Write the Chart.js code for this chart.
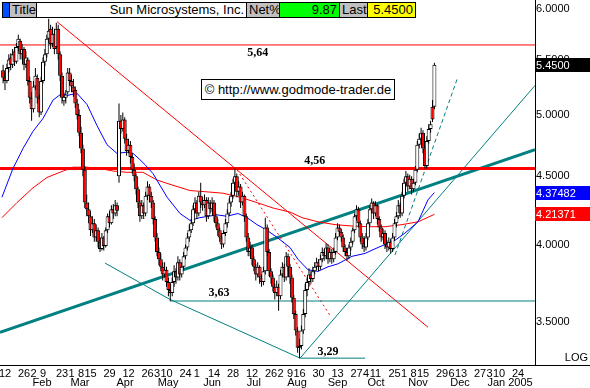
<!DOCTYPE html>
<html><head><meta charset="utf-8">
<script src="https://cdn.jsdelivr.net/npm/chart.js@4/dist/chart.umd.min.js"></script>
<style>
html,body{margin:0;padding:0;background:#fff;}
#wrap{position:relative;width:590px;height:388px;overflow:hidden;background:#fff;}
#c{position:absolute;left:0;top:0;}
#hdr{position:absolute;left:2px;top:2px;height:14px;border:1px solid #000;display:flex;font:13px "Liberation Sans",Arial,sans-serif;line-height:14px;color:#000;background:#fff;}
#hdr div{box-sizing:border-box;height:14px;padding:0 2px;white-space:nowrap;overflow:hidden;border-right:1px solid #000;}
#hdr div:last-child{border-right:none;}
#copy{position:absolute;left:201px;top:79px;width:192px;height:19px;border:1px solid #000;background:#fff;font:13px "Liberation Sans",Arial,sans-serif;line-height:19px;text-align:center;color:#000;}
</style></head>
<body>
<div id="wrap">
<canvas id="c" width="590" height="388"></canvas>
<div id="hdr">
 <div style="width:7px;background:#0050ff;padding:0"></div>
 <div style="width:27px;background:#c0c0c0">Title</div>
 <div style="width:210px;text-align:right">Sun Microsystems, Inc.</div>
 <div style="width:33px;background:#c0c0c0">Net%</div>
 <div style="width:60px;background:#00ff00;text-align:right">9.87</div>
 <div style="width:28px;background:#c0c0c0">Last</div>
 <div style="width:47px;background:#ffff00;text-align:right">5.4500</div>
</div>
<div id="copy">© http://www.godmode-trader.de</div>
</div>
<script>
// ---- data (trading-day index, 0 = 12 Jan 2004) ----
const firstDay = -1;
const opens = [
5.40,5.33,5.30,5.42,5.52,5.45,5.58,5.48,5.62,5.68,
5.55,5.60,5.45,5.50,5.30,5.15,5.05,5.25,5.33,5.15,
5.02,5.30,5.48,5.55,5.70,5.80,5.65,5.75,5.62,5.80,
5.55,5.35,5.12,5.15,5.20,5.38,5.30,5.25,5.22,5.10,
5.00,4.85,4.72,4.55,4.30,4.25,4.20,4.10,4.15,4.05,
4.10,4.02,3.97,4.05,3.99,4.10,4.20,4.15,4.25,4.22,
4.28,4.50,4.95,4.88,4.96,4.80,4.70,4.75,4.65,4.55,
4.50,4.40,4.30,4.20,4.28,4.22,4.35,4.42,4.35,4.30,
4.18,4.05,3.95,3.90,3.85,3.80,3.83,3.75,3.70,3.68,
3.75,3.82,3.78,3.88,3.80,3.85,3.92,3.98,4.05,4.10,
4.15,4.25,4.30,4.22,4.35,4.30,4.28,4.32,4.20,4.30,
4.25,4.30,4.20,4.15,4.10,4.05,4.00,4.08,4.15,4.22,
4.30,4.35,4.45,4.50,4.38,4.42,4.30,4.35,4.20,4.05,
3.95,3.98,3.90,3.85,3.80,3.85,3.78,3.75,3.82,4.12,
3.95,3.82,3.78,3.72,3.68,3.72,3.66,3.80,3.85,3.78,
3.92,3.85,3.78,3.65,3.55,3.45,3.35,3.36,3.45,3.55,
3.70,3.75,3.80,3.77,3.82,3.85,3.88,3.85,3.90,3.95,
3.92,3.98,3.90,3.95,3.90,3.95,4.05,4.12,4.09,4.05,
3.98,3.95,3.92,3.98,4.02,4.10,4.20,4.25,4.15,4.05,
4.00,3.98,4.05,4.15,4.25,4.30,4.22,4.28,4.18,4.12,
4.05,4.08,4.00,3.98,4.02,3.97,4.05,4.15,4.20,4.28,
4.22,4.35,4.45,4.50,4.42,4.48,4.40,4.45,4.55,4.75,
4.80,4.85,4.72,4.58,4.78,4.88,5.07,5.07];
const highs = [
5.45,5.38,5.46,5.55,5.56,5.60,5.62,5.66,5.74,5.70,
5.65,5.62,5.58,5.52,5.34,5.20,5.30,5.42,5.36,5.18,
5.34,5.52,5.60,5.74,5.90,5.84,5.82,5.80,5.86,5.84,
5.58,5.38,5.20,5.22,5.42,5.42,5.36,5.32,5.25,5.14,
5.05,4.90,4.75,4.58,4.36,4.30,4.24,4.20,4.18,4.14,
4.12,4.05,4.08,4.06,4.12,4.22,4.24,4.28,4.29,4.32,
4.30,5.10,5.00,5.02,4.98,4.84,4.80,4.78,4.68,4.60,
4.52,4.42,4.32,4.32,4.30,4.38,4.46,4.44,4.38,4.32,
4.20,4.08,3.98,3.94,3.88,3.88,3.85,3.78,3.74,3.78,
3.86,3.84,3.92,3.90,3.88,3.95,4.00,4.08,4.14,4.18,
4.28,4.34,4.32,4.38,4.45,4.34,4.36,4.34,4.34,4.32,
4.34,4.32,4.22,4.18,4.12,4.08,4.10,4.18,4.25,4.33,
4.38,4.48,4.56,4.52,4.46,4.44,4.38,4.36,4.22,4.08,
4.02,4.00,3.92,3.87,3.88,3.86,3.80,3.85,4.19,4.14,
3.97,3.84,3.80,3.74,3.76,3.74,3.83,3.88,3.87,3.95,
3.94,3.87,3.80,3.67,3.57,3.47,3.40,3.48,3.58,3.74,
3.78,3.84,3.82,3.85,3.88,3.91,3.90,3.93,3.98,3.97,
4.01,4.00,3.98,3.97,3.98,4.08,4.15,4.14,4.11,4.07,
4.00,3.97,4.00,4.05,4.12,4.22,4.28,4.27,4.17,4.08,
4.06,4.08,4.18,4.28,4.33,4.31,4.31,4.29,4.20,4.14,
4.11,4.10,4.03,4.05,4.04,4.08,4.18,4.23,4.32,4.30,
4.38,4.48,4.54,4.52,4.51,4.50,4.48,4.58,4.78,4.84,
4.89,4.87,4.74,4.82,4.92,4.95,5.13,5.47];
const lows = [
5.28,5.22,5.28,5.38,5.40,5.42,5.44,5.46,5.58,5.50,
5.50,5.40,5.42,5.26,5.10,4.95,5.02,5.22,5.10,4.98,
5.00,5.28,5.44,5.52,5.66,5.60,5.62,5.55,5.60,5.50,
5.30,5.10,5.08,5.10,5.18,5.26,5.20,5.16,5.06,4.96,
4.82,4.68,4.50,4.26,4.20,4.15,4.06,4.08,4.02,4.02,
3.98,3.95,3.96,3.96,3.98,4.08,4.12,4.14,4.18,4.20,
4.20,4.45,4.84,4.86,4.76,4.66,4.68,4.60,4.52,4.46,
4.36,4.26,4.16,4.18,4.18,4.20,4.32,4.30,4.26,4.14,
4.02,3.92,3.86,3.82,3.76,3.78,3.72,3.66,3.63,3.66,
3.72,3.74,3.76,3.76,3.78,3.83,3.90,3.96,4.02,4.08,
4.13,4.22,4.18,4.20,4.26,4.24,4.26,4.16,4.18,4.22,
4.23,4.16,4.12,4.06,4.02,3.97,3.98,4.06,4.12,4.20,
4.27,4.33,4.42,4.34,4.35,4.26,4.28,4.16,4.02,3.92,
3.92,3.86,3.82,3.76,3.78,3.74,3.72,3.73,3.80,3.92,
3.79,3.74,3.69,3.64,3.66,3.57,3.64,3.78,3.75,3.76,
3.82,3.74,3.62,3.52,3.42,3.32,3.29,3.34,3.43,3.53,
3.66,3.72,3.74,3.75,3.80,3.83,3.82,3.83,3.88,3.89,
3.90,3.87,3.88,3.87,3.88,3.93,4.03,4.06,4.02,3.95,
3.92,3.89,3.90,3.96,4.00,4.08,4.17,4.12,4.02,3.97,
3.95,3.96,4.03,4.13,4.22,4.18,4.20,4.14,4.09,4.02,
4.03,3.97,3.95,3.96,3.94,3.95,4.03,4.12,4.18,4.19,
4.20,4.33,4.42,4.38,4.40,4.36,4.38,4.43,4.53,4.72,
4.77,4.68,4.56,4.56,4.76,4.85,4.94,5.05];
const closes = [
5.33,5.30,5.42,5.50,5.45,5.55,5.48,5.62,5.70,5.55,
5.60,5.45,5.52,5.30,5.15,5.05,5.25,5.35,5.15,5.02,
5.30,5.48,5.55,5.70,5.78,5.65,5.75,5.60,5.80,5.55,
5.35,5.15,5.16,5.18,5.38,5.30,5.25,5.20,5.10,5.00,
4.85,4.72,4.55,4.30,4.25,4.20,4.10,4.15,4.05,4.10,
4.02,3.97,4.05,3.99,4.10,4.20,4.15,4.25,4.22,4.28,
4.24,4.95,4.88,4.96,4.80,4.70,4.75,4.65,4.55,4.50,
4.40,4.30,4.20,4.28,4.22,4.35,4.42,4.35,4.30,4.18,
4.05,3.95,3.90,3.85,3.80,3.83,3.75,3.70,3.68,3.75,
3.82,3.78,3.88,3.80,3.85,3.92,3.98,4.05,4.10,4.15,
4.25,4.30,4.22,4.35,4.30,4.28,4.32,4.20,4.30,4.25,
4.30,4.20,4.15,4.10,4.05,4.00,4.08,4.15,4.22,4.30,
4.35,4.45,4.50,4.38,4.42,4.30,4.35,4.20,4.05,3.95,
3.98,3.90,3.85,3.80,3.85,3.78,3.75,3.82,4.12,3.95,
3.82,3.78,3.72,3.68,3.72,3.66,3.80,3.85,3.78,3.92,
3.85,3.78,3.65,3.55,3.45,3.35,3.36,3.45,3.55,3.70,
3.75,3.80,3.77,3.82,3.85,3.88,3.85,3.90,3.95,3.92,
3.98,3.90,3.95,3.90,3.95,4.05,4.12,4.09,4.05,3.98,
3.95,3.92,3.98,4.02,4.10,4.20,4.25,4.15,4.05,4.00,
3.98,4.05,4.15,4.25,4.30,4.22,4.28,4.18,4.12,4.05,
4.08,4.00,3.98,4.02,3.97,4.05,4.15,4.20,4.28,4.22,
4.35,4.45,4.50,4.42,4.48,4.40,4.45,4.55,4.75,4.80,
4.85,4.72,4.58,4.78,4.88,4.92,4.96,5.45];

// moving averages (read at sample points)
const blueMAx = [-1.6,4.2,9.5,14.7,20,25.3,30,32.6,37.9,43.2,48.4,53.7,58.9,64.2,67.4,71,73.7,77.9,85.3,92.1,97.4,102.6,111.6,116.8,122.6,127.4,132.6,137.9,143.2,150,154.2,159.5,164.7,170,175.3,182.6,189.5,196.3,200,205.3,210.5,217.4,222.6,226];
const blueMAy = [4.34,4.56,4.72,4.86,4.97,5.13,5.19,5.17,5.19,5.09,4.91,4.75,4.68,4.69,4.68,4.63,4.59,4.52,4.34,4.22,4.17,4.19,4.21,4.20,4.22,4.19,4.14,4.10,4.05,3.98,3.90,3.83,3.82,3.85,3.87,3.92,3.94,3.98,4.00,4.03,4.08,4.16,4.32,4.37482];
const redMAx = [-1.6,6.3,14.7,22.1,28.9,35.8,43.2,50,56.8,64.2,72.6,80,88.4,97.4,106.3,114.7,123.7,132.6,141.1,150,156.3,164.7,173.7,182.6,191,200,209,217.4,226];
const redMAy = [4.19,4.30,4.41,4.49,4.53,4.57,4.57,4.56,4.54,4.53,4.53,4.47,4.43,4.39,4.38,4.37,4.34,4.30,4.26,4.23,4.19,4.16,4.14,4.13,4.125,4.125,4.14,4.16,4.21371];

// drawn lines (index, price)
const xMin = -2.6316, xMax = 278.947;
const yMin = 3.2514, yMax = 6.0937;
const resistance = [5.64, 4.56];
const support363X = [86.8, xMax], support329X = [155.3, 189.5];
const supportLevels = [3.63, 3.29];
const downTrendX = [27.4, 222.6], downTrendY = [5.87, 3.47];
const dottedX = [122.1, 171.1], dottedY = [4.55, 3.54];
const bigTrendX = [xMin, xMax], bigTrendY = [3.44, 4.71];
const lowTrendX = [52.6, 86.8, 155.3], lowTrendY = [3.875, 3.64, 3.29];
const upTrendX = [155.3, xMax], upTrendY = [3.29, 5.26];
const steepX = [205.3, 238.4], steepY = [3.93, 5.34];

// axis ticks
const priceTicks = [3.5, 4, 4.5, 5, 5.5, 6];
const dayTickPos = [0,10,15,20,30,35,40,45,55,65,75,80,85,95,101,110,120,130,140,145,150,155,165,175,185,190,195,205,210,215,220,230,235,240,250,255,260,270];
const dayTickLabels = ['12','26','2','9','23','1','8','15','29','12','26','3','10','24','1','14','28','12','26','2','9','16','30','13','27','4','11','25','1','8','15','29','6','13','27','3','10','24'];
const monthPos = [19.5,39.5,63.2,85.8,109,131,153.7,175,195.3,217.4,239.5,265.8];
const monthLabels = ['Feb','Mar','Apr','May','Jun','Jul','Aug','Sep','Oct','Nov','Dec','Jan 2005'];

// ---- build ----
const pts = (xs, ys) => xs.map((x, k) => ({x, y: ys[k]}));
const TEAL = '#008080', RED = '#ff0000', BLUE = '#0000ff';
function lineDs(data, color, width, dash, order) {
  return {type: 'line', data, borderColor: color, borderWidth: width, borderDash: dash || [],
    pointRadius: 0, fill: false, tension: 0, order: order, borderCapStyle: 'butt'};
}
const wickData = opens.map((o, k) => ({x: firstDay + k, y: [lows[k], highs[k]]}));
const bodyData = opens.map((o, k) => ({x: firstDay + k, y: [opens[k], closes[k]]}));

Chart.defaults.font.family = '"Liberation Sans", Arial, sans-serif';
Chart.defaults.font.size = 11;
Chart.defaults.color = '#000';

const levelLabels = [
  {text: '5,64', x: 133, value: 5.64, dy: 8},
  {text: '4,56', x: 163, value: 4.56, dy: -8},
  {text: '3,63', x: 112.6, value: 3.63, dy: -8},
  {text: '3,29', x: 170, value: 3.29, dy: -6}
];
const valueBoxes = [
  {value: closes[closes.length - 1], text: closes[closes.length - 1].toFixed(4), bg: '#000'},
  {value: blueMAy[blueMAy.length - 1], text: blueMAy[blueMAy.length - 1].toFixed(5), bg: BLUE},
  {value: redMAy[redMAy.length - 1], text: redMAy[redMAy.length - 1].toFixed(5), bg: RED}
];

const extras = {
  id: 'extras',
  beforeDraw(chart) {
    const c = chart.ctx; c.save(); c.fillStyle = '#fff'; c.fillRect(0, 0, chart.width, chart.height); c.restore();
  },
  afterDraw(chart) {
    const c = chart.ctx, xs = chart.scales.x, ys = chart.scales.y, a = chart.chartArea;
    c.save();
    c.font = 'bold 12px "Liberation Serif", "Times New Roman", serif';
    c.fillStyle = '#000'; c.textAlign = 'center'; c.textBaseline = 'middle';
    levelLabels.forEach(l => c.fillText(l.text, xs.getPixelForValue(l.x), ys.getPixelForValue(l.value) + l.dy));
    c.font = '11px "Liberation Sans", Arial, sans-serif';
    c.textAlign = 'left';
    valueBoxes.forEach(b => {
      const y = Math.round(ys.getPixelForValue(b.value));
      c.fillStyle = b.bg; c.fillRect(a.right, y - 7, chart.width - a.right, 14);
      c.fillStyle = '#fff'; c.fillText(b.text, a.right + 1, y + 0.5);
    });
    c.strokeStyle = '#000'; c.lineWidth = 1;
    c.beginPath(); c.moveTo(a.right, a.bottom + 0.5); c.lineTo(chart.width, a.bottom + 0.5); c.stroke();
    c.fillStyle = '#000'; c.textAlign = 'right'; c.textBaseline = 'middle';
    c.fillText('LOG', chart.width - 2, a.bottom - 7);
    c.restore();
  }
};

new Chart(document.getElementById('c'), {
  type: 'bar',
  data: {
    datasets: [
      {type: 'bar', data: bodyData, barThickness: 4, grouped: false, order: 0,
        backgroundColor: ctx => closes[ctx.dataIndex] >= opens[ctx.dataIndex] ? '#ffffff' : RED,
        borderColor: '#000', borderWidth: 1, borderSkipped: false, inflateAmount: 0},
      {type: 'bar', data: wickData, barThickness: 1, grouped: false, order: 1,
        backgroundColor: '#000', borderWidth: 0, inflateAmount: 0},
      lineDs(pts(blueMAx, blueMAy), BLUE, 1, null, 2),
      lineDs(pts(redMAx, redMAy), RED, 1, null, 2),
      lineDs(pts([xMin, xMax], [resistance[0], resistance[0]]), RED, 1, null, 3),
      lineDs(pts([xMin, xMax], [resistance[1], resistance[1]]), RED, 3, null, 3),
      lineDs(pts(support363X, [supportLevels[0], supportLevels[0]]), TEAL, 1, null, 3),
      lineDs(pts(support329X, [supportLevels[1], supportLevels[1]]), TEAL, 1, null, 3),
      lineDs(pts(downTrendX, downTrendY), RED, 1, null, 3),
      lineDs(pts(dottedX, dottedY), RED, 1, [2, 3], 3),
      lineDs(pts(bigTrendX, bigTrendY), TEAL, 3, null, 3),
      lineDs(pts(lowTrendX, lowTrendY), TEAL, 1, null, 3),
      lineDs(pts(upTrendX, upTrendY), TEAL, 1, null, 3),
      lineDs(pts(steepX, steepY), TEAL, 1, [4, 3], 3)
    ]
  },
  options: {
    responsive: false, animation: false, devicePixelRatio: 1,
    layout: {padding: 0, autoPadding: false},
    plugins: {legend: {display: false}, tooltip: {enabled: false}},
    scales: {
      x: {type: 'linear', position: 'bottom', min: xMin, max: xMax, offset: false, weight: 0,
        grid: {display: false, drawTicks: false}, border: {display: true, color: '#000', width: 1},
        ticks: {autoSkip: false, maxRotation: 0, minRotation: 0, padding: 2, color: '#000',
          callback: (v) => { const k = dayTickPos.indexOf(v); return k >= 0 ? dayTickLabels[k] : ''; }},
        afterBuildTicks: s => { s.ticks = dayTickPos.map(v => ({value: v})); },
        afterFit: s => { s.height = 12; s.paddingLeft = 0; s.paddingRight = 0; }},
      xm: {type: 'linear', position: 'bottom', min: xMin, max: xMax, offset: false, weight: 1,
        grid: {display: false, drawTicks: false}, border: {display: false},
        ticks: {autoSkip: false, maxRotation: 0, minRotation: 0, padding: -1, color: '#000',
          callback: (v) => { const k = monthPos.indexOf(v); return k >= 0 ? monthLabels[k] : ''; }},
        afterBuildTicks: s => { s.ticks = monthPos.map(v => ({value: v})); },
        afterFit: s => { s.height = 11; s.paddingLeft = 0; s.paddingRight = 0; }},
      y: {type: 'logarithmic', position: 'right', min: yMin, max: yMax,
        grid: {display: false, drawTicks: false}, border: {display: true, color: '#000', width: 1},
        ticks: {autoSkip: false, padding: 1, color: '#000', callback: v => Number(v).toFixed(4)},
        afterBuildTicks: s => { s.ticks = priceTicks.map(v => ({value: v})); },
        afterFit: s => { s.width = 55; s.paddingTop = 0; s.paddingBottom = 0; }}
    }
  },
  plugins: [extras]
});
</script>
</body></html>
